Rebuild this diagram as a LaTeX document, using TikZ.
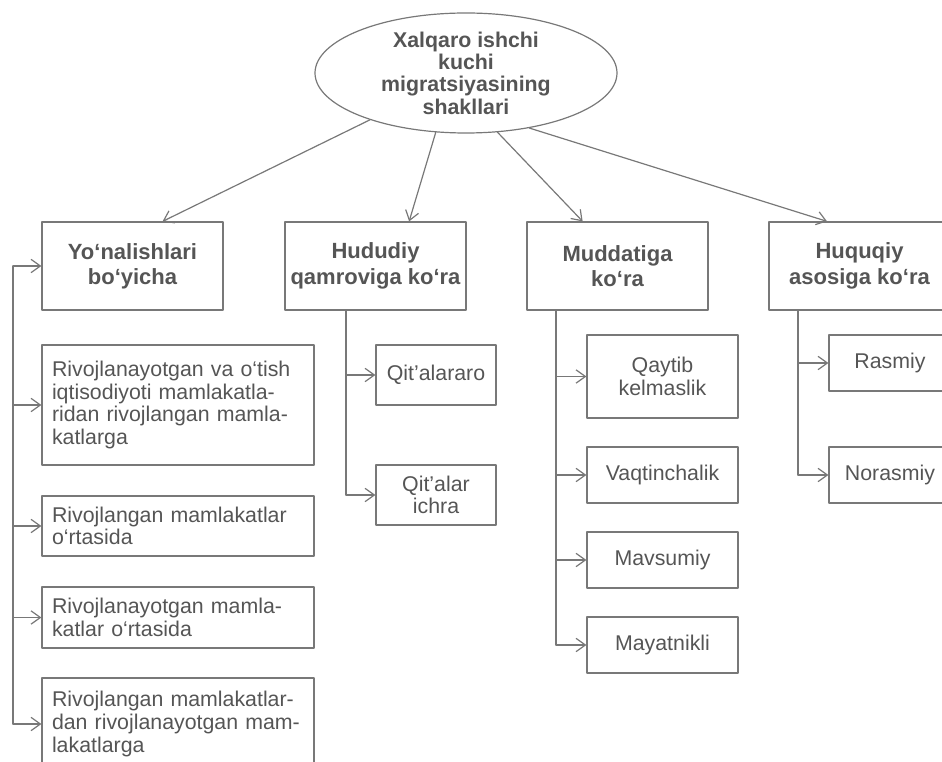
\documentclass[tikz,border=0pt]{standalone}
\usepackage{fontspec}
\setmainfont{Liberation Sans}
\usetikzlibrary{shapes.geometric,arrows.meta}
\definecolor{inkgray}{RGB}{85,85,85}
\definecolor{linegray}{RGB}{120,120,120}
\begin{document}
\begin{tikzpicture}[x=0.75pt,y=-0.75pt,line join=round,line cap=round,
		>={Straight Barb[length=7pt,width=10pt]},
		every node/.style={text=inkgray},
		oval/.style={draw=linegray,line width=0.9pt,ellipse,minimum width=226.5pt,minimum height=90pt,inner xsep=0pt,inner ysep=-4pt,align=center,font=\fontsize{16}{16.7}\selectfont\bfseries},
		head/.style={draw=linegray,line width=0.9pt,minimum width=135.75pt,minimum height=66pt,inner sep=2pt,align=center,font=\fontsize{16.5}{19}\selectfont\bfseries},
		kind/.style={draw=linegray,line width=0.9pt,text width=189pt,inner xsep=7.5pt,inner ysep=2pt,align=left,font=\fontsize{16}{17}\selectfont},
		item/.style={draw=linegray,line width=0.9pt,inner sep=2pt,align=center,font=\fontsize{16}{17}\selectfont},
		link/.style={draw=linegray,line width=0.9pt}]
			\useasboundingbox (0,0) rectangle (942,762);
			\clip (0,0) rectangle (942,762);
			\node[oval] (top) at (466,73) {Xalqaro ishchi\\kuchi\\migratsiyasining\\shakllari};
			\node[head] (h1) at (132.5,266) {Yo‘nalishlari\\bo‘yicha};
			\node[head] (h2) at (375.5,266) {Hududiy\\qamroviga ko‘ra};
			\node[head] (h3) at (617.5,266) {Muddatiga\\ko‘ra};
			\node[head] (h4) at (859.5,266) {Huquqiy\\asosiga ko‘ra};
			\node[kind,minimum height=90pt] (a1) at (178,405) {Rivojlanayotgan va o‘tish\\iqtisodiyoti mamlakatla-\\ridan rivojlangan mamla-\\katlarga};
			\node[kind,minimum height=45pt] (a2) at (178,526) {Rivojlangan mamlakatlar\\o‘rtasida};
			\node[kind,minimum height=45.75pt] (a3) at (178,617.5) {Rivojlanayotgan mamla-\\katlar o‘rtasida};
			\node[kind,minimum height=69pt] (a4) at (178,724) {Rivojlangan mamlakatlar-\\dan rivojlanayotgan mam-\\lakatlarga};
			\node[item,minimum width=90pt,minimum height=45pt] (b1) at (436,375) {Qit’alararo};
			\node[item,minimum width=90pt,minimum height=45pt] (b2) at (436,495) {Qit’alar\\ichra};
			\node[item,minimum width=113.25pt,minimum height=62.25pt] (c1) at (662.5,376.5) {Qaytib\\kelmaslik};
			\node[item,minimum width=113.25pt,minimum height=42pt] (c2) at (662.5,475) {Vaqtinchalik};
			\node[item,minimum width=113.25pt,minimum height=42pt] (c3) at (662.5,560) {Mavsumiy};
			\node[item,minimum width=113.25pt,minimum height=42pt] (c4) at (662.5,645) {Mayatnikli};
			\node[item,minimum width=91.5pt,minimum height=42pt] (d1) at (890,363) {Rasmiy};
			\node[item,minimum width=91.5pt,minimum height=42pt] (d2) at (890,475) {Norasmiy};
			\draw[link,->] (top.-154) -- (h1.56);
			\draw[link,->] (top.-117) -- (h2.53);
			\draw[link,->] (top.-62) -- (h3.128);
			\draw[link,->] (top.-41) -- (h4.126);
			\coordinate (t1) at (13,0);
			\coordinate (t2) at (346,0);
			\coordinate (t3) at (556,0);
			\coordinate (t4) at (798,0);
			\draw[link] (t1 |- h1.west) -- (t1 |- a4.west);
			\draw[link] (t2 |- h2.south) -- (t2 |- b2.west);
			\draw[link] (t3 |- h3.south) -- (t3 |- c4.west);
			\draw[link] (t4 |- h4.south) -- (t4 |- d2.west);
			\foreach \n in {h1,a1,a2,a3,a4} \draw[link,->] (t1 |- \n.west) -- (\n.west);
			\foreach \n in {b1,b2} \draw[link,->] (t2 |- \n.west) -- (\n.west);
			\foreach \n in {c1,c2,c3,c4} \draw[link,->] (t3 |- \n.west) -- (\n.west);
			\foreach \n in {d1,d2} \draw[link,->] (t4 |- \n.west) -- (\n.west);
		\end{tikzpicture}
\end{document}
